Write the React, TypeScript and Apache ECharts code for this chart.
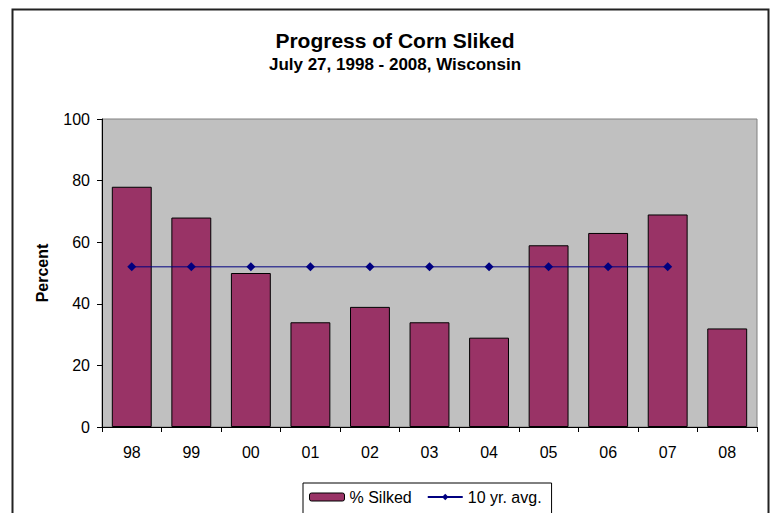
import React, { useEffect, useRef } from "react";
import * as echarts from "echarts";

const categories = ["98", "99", "00", "01", "02", "03", "04", "05", "06", "07", "08"];
const silked = [78, 68, 50, 34, 39, 34, 29, 59, 63, 69, 32];
const avg10 = [52, 52, 52, 52, 52, 52, 52, 52, 52, 52, "-"];

export default function App() {
  const ref = useRef<HTMLDivElement>(null);
  useEffect(() => {
    document.body.style.margin = "0";
    const chart = echarts.init(ref.current!, null, { renderer: "svg" });
    const font = "Arial, 'Liberation Sans', sans-serif";
    chart.setOption({
      animation: false,
      textStyle: { fontFamily: font },
      graphic: [
        {
          type: "rect",
          shape: { x: 12.5, y: 9.5, width: 756, height: 520 },
          style: { fill: "none", stroke: "#222", lineWidth: 2 },
          z: 100,
        },
      ],
      title: {
        text: "Progress of Corn Sliked",
        subtext: "July 27, 1998 - 2008, Wisconsin",
        left: 390,
        textAlign: "center",
        top: 25,
        itemGap: 5,
        textStyle: { fontSize: 21, fontWeight: "bold", color: "#000", fontFamily: font },
        subtextStyle: { fontSize: 17, fontWeight: "bold", color: "#000", fontFamily: font },
      },
      legend: {
        left: 303,
        top: 483,
        itemGap: 15,
        padding: [6, 10, 20, 6],
        borderColor: "#000",
        borderWidth: 1,
        itemWidth: 35,
        itemHeight: 8,
        textStyle: { fontSize: 16, color: "#000", fontFamily: font },
        data: [
          { name: "% Silked", itemStyle: { borderColor: "#000", borderWidth: 1 } },
          { name: "10 yr. avg." },
        ],
      },
      grid: {
        left: 102,
        right: 18,
        top: 119,
        bottom: 86,
        show: true,
        backgroundColor: "#C0C0C0",
        borderColor: "#808080",
        borderWidth: 1,
      },
      xAxis: {
        type: "category",
        data: categories,
        boundaryGap: true,
        axisLine: { lineStyle: { color: "#000", width: 1 } },
        axisTick: { show: true, interval: 0, length: 5, lineStyle: { color: "#000" } },
        axisLabel: { fontSize: 16, color: "#000", margin: 17, fontFamily: font },
      },
      yAxis: {
        type: "value",
        min: 0,
        max: 100,
        interval: 20,
        name: "Percent",
        nameLocation: "middle",
        nameGap: 52,
        nameTextStyle: { fontSize: 16, fontWeight: "bold", color: "#000", fontFamily: font },
        axisLine: { show: true, lineStyle: { color: "#000", width: 1 } },
        axisTick: { show: true, length: 5, lineStyle: { color: "#000" } },
        axisLabel: { fontSize: 16, color: "#000", margin: 12, fontFamily: font },
        splitLine: { show: false },
      },
      series: [
        {
          name: "% Silked",
          type: "bar",
          data: silked,
          barCategoryGap: "33%",
          itemStyle: { color: "#993366", borderColor: "#000", borderWidth: 1 },
        },
        {
          name: "10 yr. avg.",
          type: "line",
          data: avg10,
          symbol: "diamond",
          symbolSize: 9,
          lineStyle: { color: "#000080", width: 1 },
          itemStyle: { color: "#000080" },
        },
      ],
    });
    return () => chart.dispose();
  }, []);
  return (
    <div
      ref={ref}
      style={{ position: "fixed", left: 0, top: 0, width: 775, height: 513, background: "#fff" }}
    />
  );
}
